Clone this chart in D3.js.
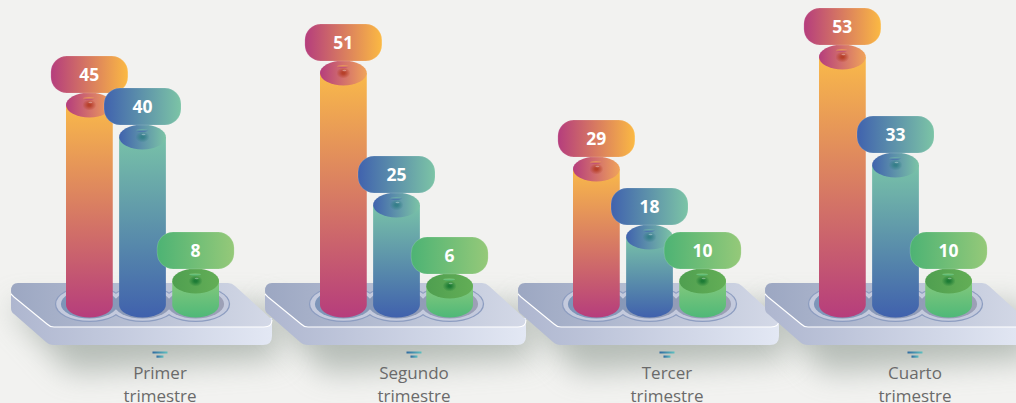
<!DOCTYPE html>
<html lang="es">
    <head>
        <meta charset="utf-8">
        <title>trimestres</title>
        <script src="https://cdn.jsdelivr.net/npm/d3@7"></script>
        <style>
            html, body { margin: 0; padding: 0; background: #f2f2f0; overflow: hidden; }
            svg { display: block; }
            text { font-family: "Open Sans", sans-serif; }
        </style>
    </head>

    <body>
        <script>
        var w = 1016;
        var h = 403;

        // Values
        var quarters = ["Primer trimestre", "Segundo trimestre", "Tercer trimestre", "Cuarto trimestre"];
        var seriesNames = ["naranja", "azul", "verde"];
        var naranja = [45, 51, 29, 53];
        var azul = [40, 25, 18, 33];
        var verde = [8, 6, 10, 10];
        var allSeries = [naranja, azul, verde];

        // The heights in the original are not proportional, so the scale has one knot per value seen
        var knotValues = [6, 8, 10, 18, 25, 29, 33, 40, 45, 51, 53];
        var knotY = [286, 281, 281, 237, 205, 169, 165, 137, 105, 73, 57];

        var yScale = d3.scaleLinear().domain(knotValues).range(knotY);
        var groupX = d3.scaleOrdinal().domain(quarters).range([66, 320, 573, 819]); // left of first bar
        var plateX = d3.scaleOrdinal().domain(quarters).range([0, 254, 507, 754]);  // plate shift
        var labelX = d3.scaleOrdinal().domain(quarters).range([160, 414, 667, 915]);
        var barX = d3.scaleBand().domain(seriesNames).range([0, 153]).paddingInner(0.12);

        var baseY = 305;
        var rx = barX.bandwidth() / 2;
        var ry = 12.5;

        var colors = {
            naranja: {top: "#f9b94a", bottom: "#b63d7c", left: "#b53d7d", right: "#fbb943", bead: "#b2381f", capL: "#b53d7d", capR: "#f0a35a"},
            azul: {top: "#78c2a8", bottom: "#4061ad", left: "#4062ae", right: "#7cc4a6", bead: "#2f7c84", capL: "#4062ae", capR: "#7cc4a6"},
            verde: {top: "#84c97c", bottom: "#4fb878", left: "#4db374", right: "#95c979", bead: "#137430", capL: "#4f9f50", capR: "#63ae56"}
        };

        var svg = d3.select("body").append("svg")
            .attr("width", w)
            .attr("height", h);

        var defs = svg.append("defs");

        function linear(id, x2, y2, stops) {
            var g = defs.append("linearGradient").attr("id", id)
                .attr("x1", 0).attr("y1", 0).attr("x2", x2).attr("y2", y2);
            stops.forEach(function(s, i) {
                g.append("stop").attr("offset", i / (stops.length - 1)).attr("stop-color", s);
            });
            return g;
        }

        seriesNames.forEach(function(s) {
            var c = colors[s];
            linear("body-" + s, 0, 1, [c.top, c.bottom]);
            linear("pill-" + s, 1, 0, [c.left, c.right]);
            linear("cap-" + s, 1, 0, [c.capL, c.capR]);
            var r = defs.append("radialGradient").attr("id", "bead-" + s);
            r.append("stop").attr("offset", 0.2).attr("stop-color", c.bead).attr("stop-opacity", 0.85);
            r.append("stop").attr("offset", 1).attr("stop-color", c.bead).attr("stop-opacity", 0);
        });
        linear("plate-top", 1, 0, ["#9ca7c2", "#d4d9e7"]);
        linear("plate-side", 1, 0, ["#aeb6cf", "#e3e8f4"]);
        linear("recess", 1, 0, ["#7d95b9", "#9da0b6"])
            .attr("gradientUnits", "userSpaceOnUse")
            .attr("x1", 60).attr("x2", 225);
        linear("icon", 1, 0, ["#2f6aa0", "#5fc0c0"]);

        defs.append("filter").attr("id", "blur")
            .attr("x", "-30%").attr("y", "-80%").attr("width", "160%").attr("height", "260%")
            .append("feGaussianBlur").attr("stdDeviation", 15);

        // Shadows go first so no plate is covered by a neighbour's shadow
        svg.selectAll(".shadow")
            .data(quarters)
            .enter()
            .append("path")
            .attr("class", "shadow")
            .attr("transform", function(d) { return "translate(" + plateX(d) + ",0)"; })
            .attr("d", "M8,305 L268,305 L282,358 L70,372 Z")
            .attr("fill", "#909b93")
            .attr("opacity", 0.62)
            .attr("filter", "url(#blur)");

        var groups = svg.selectAll(".group")
            .data(quarters)
            .enter()
            .append("g")
            .attr("class", "group");

        groups.each(function(quarter, qi) {
            var g = d3.select(this);
            var shift = groupX(quarter) - 66;
            var centre = function(s) { return groupX(quarter) + barX(s) + rx; };

            // plate
            var plate = g.append("g")
                .attr("transform", "translate(" + plateX(quarter) + ",0)");
            plate.append("path")
                .attr("d", "M11,295 L11,308 Q11,312 14,314 L46,342 Q49,345 54,345 L263,345 Q272,345 272,336 L272,318 L11,295 Z")
                .attr("fill", "url(#plate-side)");
            plate.append("path")
                .attr("d", "M18,283 L228,283 Q232,283 235,286 L268,316 Q272,320 272,322 Q272,327 264,327 L54,327 Q50,327 47,324 L14,297 Q11,295 11,291 Q11,283 18,283 Z")
                .attr("fill", "url(#plate-top)");
            plate.append("path")
                .attr("d", "M11,294 L14,297 L47,324 Q50,327 54,327 L264,327 Q272,327 272,320")
                .attr("fill", "none")
                .attr("stroke", "#fff")
                .attr("stroke-width", 1.1);

            // recess rings: each layer is the union of three ellipses
            var recess = g.append("g")
                .attr("transform", "translate(" + shift + ",0)");
            [[34.5, 18, "#8d9dc0"], [33.2, 16.8, "#c4cadd"], [28.5, 14.6, "url(#recess)"]].forEach(function(l) {
                recess.selectAll(null)
                    .data(seriesNames)
                    .enter()
                    .append("ellipse")
                    .attr("cx", function(s) { return 66 + barX(s) + rx; })
                    .attr("cy", 304)
                    .attr("rx", l[0])
                    .attr("ry", l[1])
                    .attr("fill", l[2]);
            });

            // bars, caps and pills
            seriesNames.forEach(function(s, si) {
                var v = allSeries[si][qi];
                var x0 = groupX(quarter) + barX(s);
                var cx = centre(s);
                var top = yScale(v);

                g.append("path")
                    .attr("d", "M" + x0 + "," + top +
                        " L" + x0 + "," + baseY +
                        " A" + rx + "," + ry + " 0 0 0 " + (x0 + 2 * rx) + "," + baseY +
                        " L" + (x0 + 2 * rx) + "," + top + " Z")
                    .attr("fill", "url(#body-" + s + ")");

                g.append("ellipse")
                    .attr("cx", cx).attr("cy", top)
                    .attr("rx", rx).attr("ry", ry)
                    .attr("fill", "url(#cap-" + s + ")");
                g.append("ellipse")
                    .attr("cx", cx - 0.5).attr("cy", top - 6.5)
                    .attr("rx", 6).attr("ry", 0.9)
                    .attr("fill", "url(#body-" + s + ")");
                g.append("ellipse")
                    .attr("cx", cx).attr("cy", top)
                    .attr("rx", 7).attr("ry", 5.5)
                    .attr("fill", "url(#bead-" + s + ")");
                g.append("ellipse")
                    .attr("cx", cx + 1).attr("cy", top - 2.5)
                    .attr("rx", 2).attr("ry", 0.8)
                    .attr("fill", "#fff")
                    .attr("opacity", 0.35);

                g.append("rect")
                    .attr("x", cx - 38.5).attr("y", top - 49)
                    .attr("width", 77).attr("height", 37)
                    .attr("rx", 16).attr("ry", 16)
                    .attr("fill", "url(#pill-" + s + ")")
                    .attr("stroke", "#fff")
                    .attr("stroke-opacity", 0.25)
                    .attr("stroke-width", 0.6);

                g.append("text")
                    .attr("x", cx).attr("y", top - 24.5)
                    .attr("text-anchor", "middle")
                    .attr("font-size", 17.5)
                    .attr("font-weight", 700)
                    .attr("fill", "#fff")
                    .text(v);
            });

            // little funnel mark and the label
            var lx = labelX(quarter);
            [[15, 351.5, 2], [7, 355.5, 2.2]].forEach(function(b) {
                g.append("rect")
                    .attr("x", lx - b[0] / 2).attr("y", b[1])
                    .attr("width", b[0]).attr("height", b[2])
                    .attr("fill", "url(#icon)");
            });

            var label = g.append("text")
                .attr("text-anchor", "middle")
                .attr("font-size", 17)
                .attr("fill", "#6a6a6a");
            quarter.split(" ").forEach(function(word, i) {
                label.append("tspan")
                    .attr("x", lx)
                    .attr("y", 379 + i * 23)
                    .text(word);
            });
        });
        </script>
    </body>
</html>
